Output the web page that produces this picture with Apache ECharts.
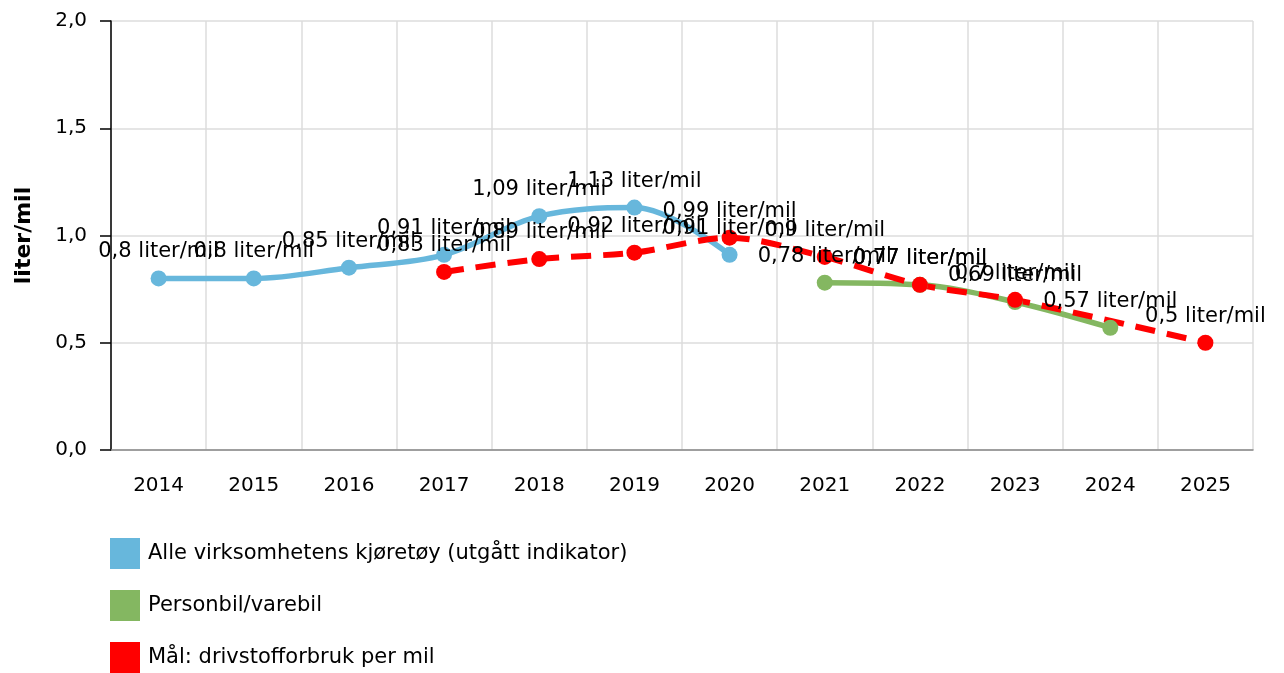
<!DOCTYPE html>
<html><head><meta charset="utf-8">
<script src="https://cdn.jsdelivr.net/npm/echarts@6/dist/echarts.min.js"></script>
<style>html,body{margin:0;padding:0;background:#fff}#c{width:1284px;height:673px}</style>
</head><body><div id="c"></div>
<script>
const years = ['2014','2015','2016','2017','2018','2019','2020','2021','2022','2023','2024','2025'];
const alleKjoretoy = [0.8, 0.8, 0.85, 0.91, 1.09, 1.13, 0.91, null, null, null, null, null];
const personbil = [null, null, null, null, null, null, null, 0.78, 0.77, 0.69, 0.57, null];
const maal = [null, null, null, 0.83, 0.89, 0.92, 0.99, 0.9, 0.77, 0.7, null, 0.5];
const yTicks = [0, 0.5, 1.0, 1.5, 2.0];
const names = ['Alle virksomhetens kjøretøy (utgått indikator)', 'Personbil/varebil', 'Mål: drivstofforbruk per mil'];

const font = 'DejaVu Sans, Verdana, sans-serif';
const fmt = v => String(v).replace('.', ',');
function lbl(){
  return {show:true, position:'top', distance:8, color:'#000', fontFamily:font, fontSize:21,
    formatter: p => p.value == null ? '' : fmt(p.value) + ' liter/mil'};
}
const chart = echarts.init(document.getElementById('c'), null, {renderer:'canvas'});
chart.setOption({
  animation:false,
  grid:{left:111, right:31, top:21, bottom:223},
  legend:{orient:'vertical', left:110, top:538, padding:0, itemWidth:30, itemHeight:31, itemGap:21,
    icon:'rect', textStyle:{fontFamily:font, fontSize:21, color:'#000', padding:[0,0,0,3]},
    data: names.map(n => ({name:n}))},
  xAxis:{type:'category', data:years, boundaryGap:true,
    axisLine:{lineStyle:{color:'#888', width:1.5}}, axisTick:{show:false},
    axisLabel:{fontFamily:font, fontSize:20, color:'#000', margin:26},
    splitLine:{show:true, lineStyle:{color:'#dcdcdc', width:1.5}}},
  yAxis:{type:'value', min:0, max:2, interval:0.5, name:'liter/mil', nameLocation:'middle', nameGap:76,
    nameTextStyle:{fontFamily:font, fontSize:22, fontWeight:'bold', color:'#000'},
    axisLine:{show:true, lineStyle:{color:'#000', width:1.5}},
    axisTick:{show:true, length:11, lineStyle:{color:'#000', width:1.5}},
    axisLabel:{fontFamily:font, fontSize:20, color:'#000', margin:24, formatter: v => v.toFixed(1).replace('.', ',')},
    splitLine:{lineStyle:{color:'#dcdcdc', width:1.5}}},
  series:[
    {name:names[0], type:'line', data:alleKjoretoy, smooth:0.35, symbol:'circle', symbolSize:16,
      color:'#67b7dc', lineStyle:{width:5.5, color:'#67b7dc'}, itemStyle:{color:'#67b7dc'}, label:lbl()},
    {name:names[1], type:'line', data:personbil, smooth:0.35, symbol:'circle', symbolSize:16,
      color:'#84b761', lineStyle:{width:5.5, color:'#84b761'}, itemStyle:{color:'#84b761'}, label:lbl()},
    {name:names[2], type:'line', data:maal, smooth:0.3, connectNulls:true, symbol:'circle', symbolSize:16,
      color:'#ff0000', lineStyle:{width:6, color:'#ff0000', type:[20,12]}, itemStyle:{color:'#ff0000'}, label:lbl()}
  ]
});
</script></body></html>
